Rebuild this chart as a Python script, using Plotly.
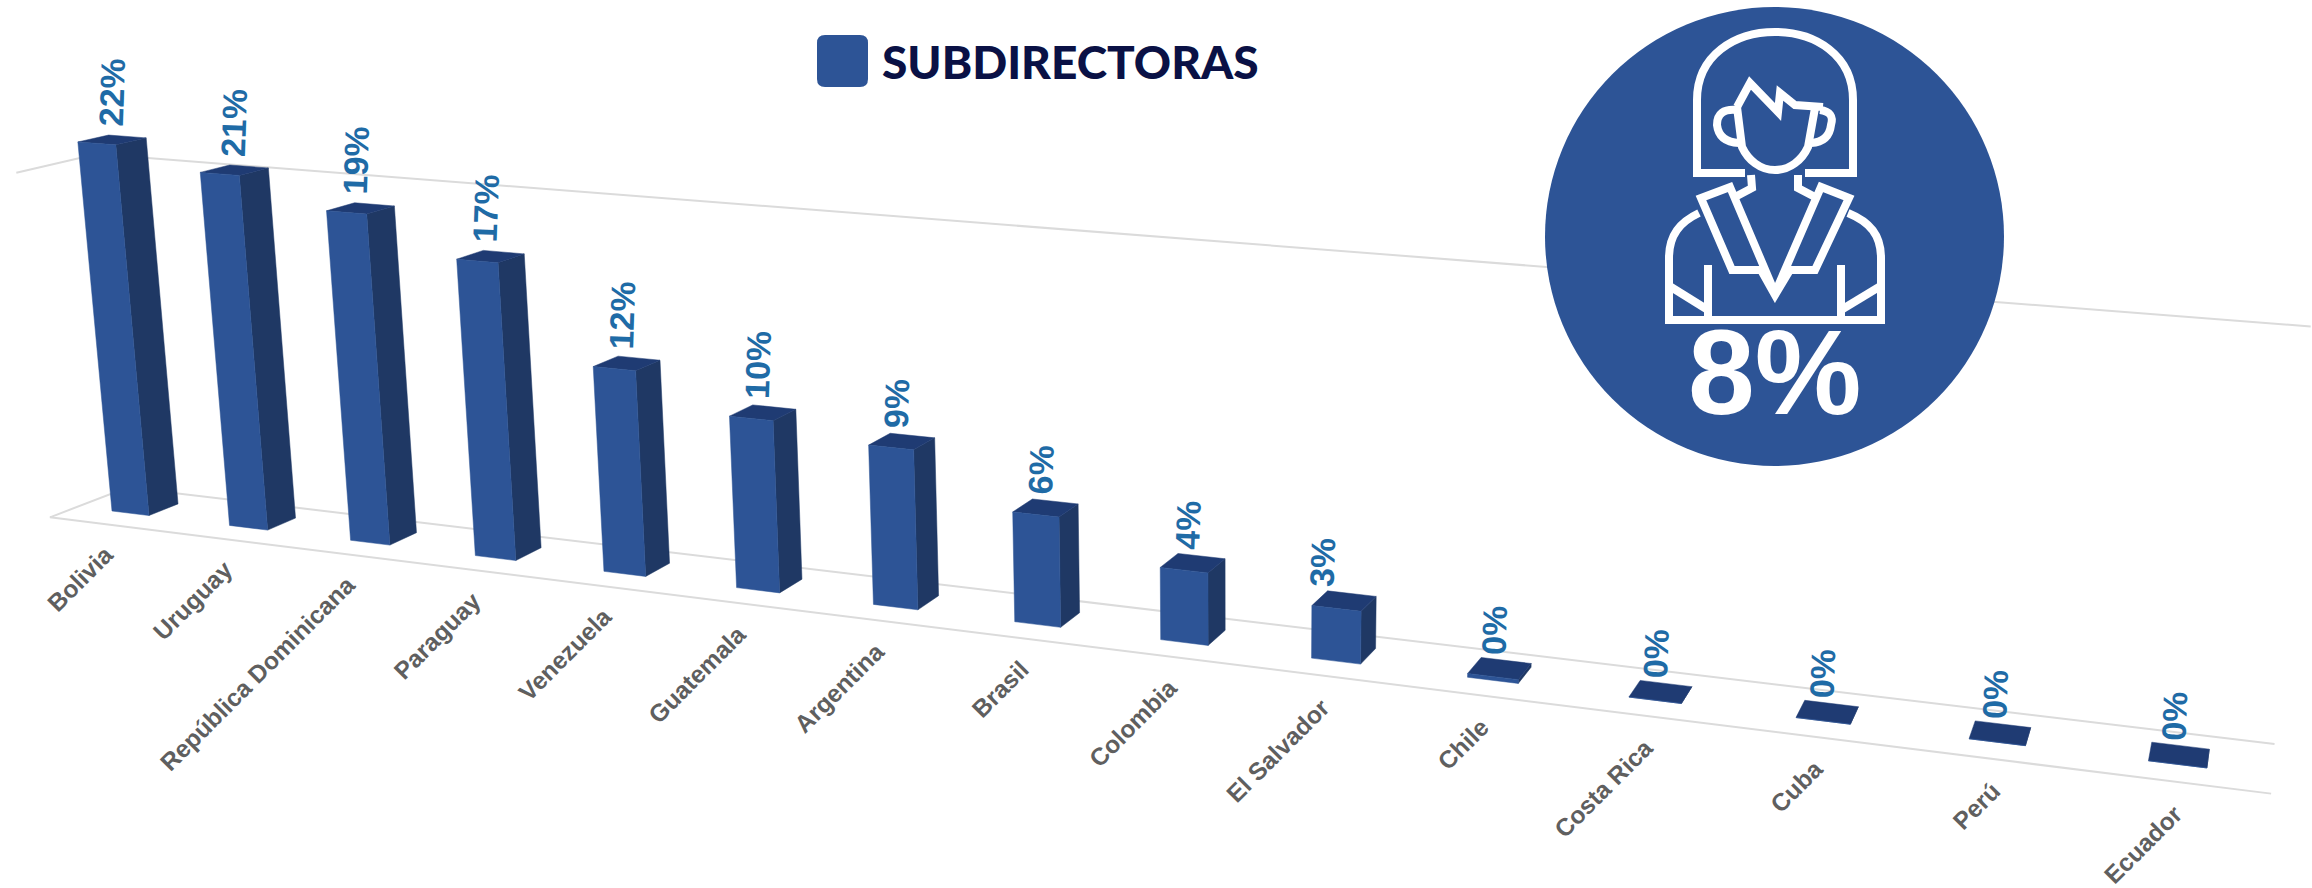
import plotly.graph_objects as go

# ---- data ----
categories = ["Bolivia", "Uruguay", "República Dominicana", "Paraguay", "Venezuela",
              "Guatemala", "Argentina", "Brasil", "Colombia", "El Salvador",
              "Chile", "Costa Rica", "Cuba", "Perú", "Ecuador"]
values = [21.8, 20.6, 19.0, 16.9, 11.6, 9.6, 8.8, 6.0, 3.9, 2.8, 0.2, 0.0, 0.0, 0.0, 0.0]
series_name = "SUBDIRECTORAS"
average_label = "8%"
gridline_values = [0, 20.25]

FRONT, SIDE, TOP = "#2D5496", "#1F3864", "#1F3B73"
GRID, LABEL_BLUE, LABEL_GREY, NAVY = "#DBDBDB", "#1F6BA6", "#5F5F5F", "#0A1145"
W, H = 2312, 888
BAR_W = 0.318


def project(u, d, h):
    """Perspective camera: category position u, depth d, value h -> page pixels."""
    w = 1 - 0.01455 * u + 0.0133 * d - 0.001348 * h
    x = 112 + 114.2 * u + 31.27 * d - 1.671 * h
    y = 511 + 6.77 * u - 4.9 * d - 17.12 * h
    return x / w, y / w


def polys(face):
    xs, ys = [], []
    for i, v in enumerate(values):
        for p in face(i, v):
            px, py = project(*p)
            xs.append(px)
            ys.append(py)
        xs.append(None)
        ys.append(None)
    return xs, ys


def front(i, v):
    return [(i, 0, 0), (i + BAR_W, 0, 0), (i + BAR_W, 0, v), (i, 0, v), (i, 0, 0)]


def side(i, v):
    e = i + BAR_W
    return [(e, 0, 0), (e, 1, 0), (e, 1, v), (e, 0, v), (e, 0, 0)]


def top(i, v):
    e = i + BAR_W
    return [(i, 0, v), (e, 0, v), (e, 1, v), (i, 1, v), (i, 0, v)]


fig = go.Figure()

# floor outline and the upper gridline (open at the far right)
U0, U1, D0, D1 = -0.3, 14.67, -0.9, 1.7
for g in gridline_values:
    pts = [project(U0, D0, g), project(U0, D1, g), project(U1, D1, g)]
    if g == 0:
        pts = [project(U1, D0, g)] + pts
    fig.add_trace(go.Scatter(x=[p[0] for p in pts], y=[p[1] for p in pts], mode="lines",
                             line=dict(color=GRID, width=2), hoverinfo="skip", showlegend=False))

for face, colour in ((side, SIDE), (top, TOP), (front, FRONT)):
    xs, ys = polys(face)
    fig.add_trace(go.Scatter(x=xs, y=ys, mode="lines", fill="toself", fillcolor=colour,
                             line=dict(color=colour, width=0.5), hoverinfo="skip", showlegend=False))

annotations = []
label_nudge = {"El Salvador": -17, "Bolivia": 5, "Uruguay": 5}
for i, (c, v) in enumerate(zip(categories, values)):
    tx, ty = project(i + BAR_W / 2, 0.5, v)
    annotations.append(dict(x=tx - 5 + label_nudge.get(c, 0), y=ty - 11, text=f"{round(v)}%",
                            textangle=-88, showarrow=False, xanchor="center", yanchor="bottom",
                            font=dict(family="Liberation Sans", size=34, color=LABEL_BLUE, weight="bold")))
    bx, by = project(i + 0.22, D0, 0)
    annotations.append(dict(x=bx + 11 - 0.5 * i, y=by + 13 + 0.1 * i, text=c, textangle=-45, showarrow=False,
                            xanchor="right", yanchor="top",
                            font=dict(family="Liberation Sans", size=24.5, color=LABEL_GREY, weight="bold")))

annotations.append(dict(x=880, y=61, text=series_name, showarrow=False, xanchor="left", yanchor="middle",
                        font=dict(family="Lato", size=46, color=NAVY, weight=900)))
annotations.append(dict(x=1774, y=372, text=average_label, showarrow=False, xanchor="center", yanchor="middle",
                        font=dict(family="Liberation Sans", size=120, color="white", weight="bold")))

shapes = [
    dict(type="path", layer="above", fillcolor=FRONT, line=dict(width=0),
         path="M825,35 L860,35 Q868,35 868,43 L868,79 Q868,87 860,87 L825,87 Q817,87 817,79 L817,43 Q817,35 825,35 Z"),
    dict(type="circle", layer="above", fillcolor=FRONT, line=dict(width=0), x0=1545, x1=2004, y0=7, y1=466),
]
icon_paths = [
    "M1745,173 L1697,173 L1697,100 C1697,55 1735,32 1775,32 C1815,32 1853,55 1853,100 L1853,173 L1805,173",
    "M1737,107 L1750,83 L1778,112 L1780,93 L1795,105 L1823,107",
    "M1737,107 L1742,147 C1748,160 1760,170 1775,170 C1790,170 1802,160 1808,147 L1815,108",
    "M1737,110 Q1717,108 1717,125 Q1719,142 1739,143",
    "M1820,110 Q1835,112 1831,125 Q1829,142 1811,143",
    "M1751,175 L1752,188 L1735,197",
    "M1798,175 L1798,188 L1815,197",
    "M1701,198 L1730,187 L1775,293 L1821,187 L1849,198 L1815,270 L1790,270 L1775,295 L1761,270 L1732,270 Z",
    "M1699,213 C1680,222 1669,235 1669,258 L1669,320 L1881,320 L1881,258 C1881,235 1870,222 1848,213",
    "M1708,265 L1708,317",
    "M1841,265 L1841,317",
    "M1671,287 L1708,310",
    "M1879,287 L1841,310",
]
for p in icon_paths:
    shapes.append(dict(type="path", path=p, layer="above", line=dict(color="white", width=8)))

fig.update_layout(
    width=W, height=H, margin=dict(l=0, r=0, t=0, b=0, pad=0),
    paper_bgcolor="white", plot_bgcolor="white", showlegend=False,
    xaxis=dict(range=[0, W], visible=False, fixedrange=True),
    yaxis=dict(range=[H, 0], visible=False, fixedrange=True),
    annotations=annotations, shapes=shapes,
)
fig.write_html("out.html", config=dict(displayModeBar=False),
               post_script="document.body.style.margin='0';document.body.style.overflow='hidden';")
